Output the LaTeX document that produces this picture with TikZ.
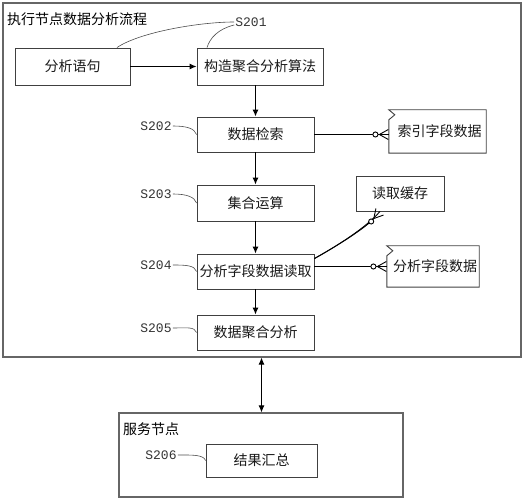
\documentclass[tikz,border=0pt]{standalone}
\usepackage{fontspec}
\usepackage{tikz}
\usetikzlibrary{arrows.meta}
\newfontfamily\cjk{Noto Sans CJK SC}
\newfontfamily\labfont{Liberation Mono}

\tikzset{
  box/.style={draw=black!75,line width=0.9pt,inner sep=0pt,text=black!90,font=\cjk\fontsize{14}{16}\selectfont},
  flagbox/.style={inner sep=0pt,text=black!90,font=\cjk\fontsize{14}{16}\selectfont},
  frame/.style={draw=black!60,line width=1.2pt,inner sep=0pt},
  steplab/.style={inner sep=1pt,text=black!80,font=\labfont\fontsize{13}{15}\selectfont},
  lead/.style={draw=black!70,line width=0.6pt},
  flow/.style={-{Latex[length=7pt,width=6pt]},line width=1pt},
  erend/.style={-{Circle[fill=white,length=6pt] Straight Barb[reversed,length=9pt,width=10pt]},line width=0.9pt}
}

\begin{document}
\begin{tikzpicture}[x=1pt,y=1pt]
\useasboundingbox (0,0) rectangle (525,500);

% execution node
\node[frame,minimum width=518,minimum height=354] (exec) at (262,320) {};
\node[anchor=west,inner sep=0pt,font=\cjk\fontsize{14}{16}\selectfont] (exectitle) at (7,481) {执行节点数据分析流程};

\node[box,minimum width=115,minimum height=37] (stmt) at (72.5,433.5) {分析语句};
\node[box,minimum width=126,minimum height=37] (algo) at (260,433.5) {构造聚合分析算法};
\node[box,minimum width=117,minimum height=35] (search) at (255.5,365.5) {数据检索};
\node[box,minimum width=117,minimum height=36] (setop) at (255.5,297) {集合运算};
\node[box,minimum width=117,minimum height=35] (readfield) at (255.5,228.5) {分析字段数据读取};
\node[box,minimum width=117,minimum height=35] (aggr) at (255.5,167.5) {数据聚合分析};

\node[box,minimum width=88,minimum height=35] (cache) at (400,306.5) {读取缓存};
\node[flagbox,minimum width=97,minimum height=43] (idx) at (437.5,368.5) {\hspace{4pt}索引字段数据};
\node[flagbox,minimum width=92,minimum height=41] (fdata) at (433,233.5) {\hspace{4pt}分析字段数据};

\draw[box] (idx.north west) -- (idx.north east) -- (idx.south east) -- (idx.south west)
  -- ([yshift=-10pt]idx.north west) -- ([xshift=6pt,yshift=-5pt]idx.north west) -- cycle;
\draw[box] (fdata.north west) -- (fdata.north east) -- (fdata.south east) -- (fdata.south west)
  -- ([yshift=-10pt]fdata.north west) -- ([xshift=6pt,yshift=-5pt]fdata.north west) -- cycle;

% step labels
\node[steplab] (s201) at (251,478) {S201};
\node[steplab] (s202) at (156,374) {S202};
\node[steplab] (s203) at (156,306) {S203};
\node[steplab] (s204) at (156,235) {S204};
\node[steplab] (s205) at (156,172) {S205};

\draw[lead] (s201.west) .. controls (200,478) and (140,468) .. ([xshift=44.5pt]stmt.north);
\draw[lead] ([yshift=-3pt]s201.west) .. controls (218,471) and (210,462) .. ([xshift=-53pt]algo.north);
\draw[lead] (s202.east) .. controls +(14,0) and +(-2,6) .. (search.west);
\draw[lead] (s203.east) .. controls +(14,0) and +(-2,6) .. (setop.west);
\draw[lead] (s204.east) .. controls +(14,0) and +(-2,6) .. (readfield.west);
\draw[lead] (s205.east) .. controls +(14,0) and +(-2,6) .. (aggr.west);

% flow
\draw[flow] (stmt) -- (algo);
\draw[flow] (algo.south -| search) -- (search);
\draw[flow] (search) -- (setop);
\draw[flow] (setop) -- (readfield);
\draw[flow] (readfield) -- (aggr);

% data links
\draw[line width=0.9pt] (search.east) -- (search.east -| idx.west);
\draw[erend] (search.east) -- (search.east -| idx.west);
\draw[line width=0.9pt] (fdata.west -| readfield.east) -- (fdata.west);
\draw[erend] (fdata.west -| readfield.east) -- (fdata.west);
\draw[line width=0.9pt] ([yshift=-5pt]readfield.north east) .. controls +(25,14) and +(-14,-16) .. ([xshift=-20pt]cache.south);
\draw[erend] ([yshift=-5pt]readfield.north east) .. controls +(25,14) and +(-14,-16) .. ([xshift=-20pt]cache.south);

% service node
\node[frame,minimum width=284,minimum height=84] (svc) at (261,45) {};
\node[anchor=west,inner sep=0pt,font=\cjk\fontsize{14}{16}\selectfont] (svctitle) at (123,71) {服务节点};
\node[box,minimum width=111,minimum height=33] (sum) at (261.5,39.5) {结果汇总};
\node[steplab] (s206) at (161,45) {S206};
\draw[lead] (s206.east) .. controls +(14,0) and +(-2,6) .. (sum.west);

\draw[{Latex[length=7pt,width=6pt]}-{Latex[length=7pt,width=6pt]},line width=0.8pt] (exec.south -| sum) -- (svc.north -| sum);
\end{tikzpicture}
\end{document}
